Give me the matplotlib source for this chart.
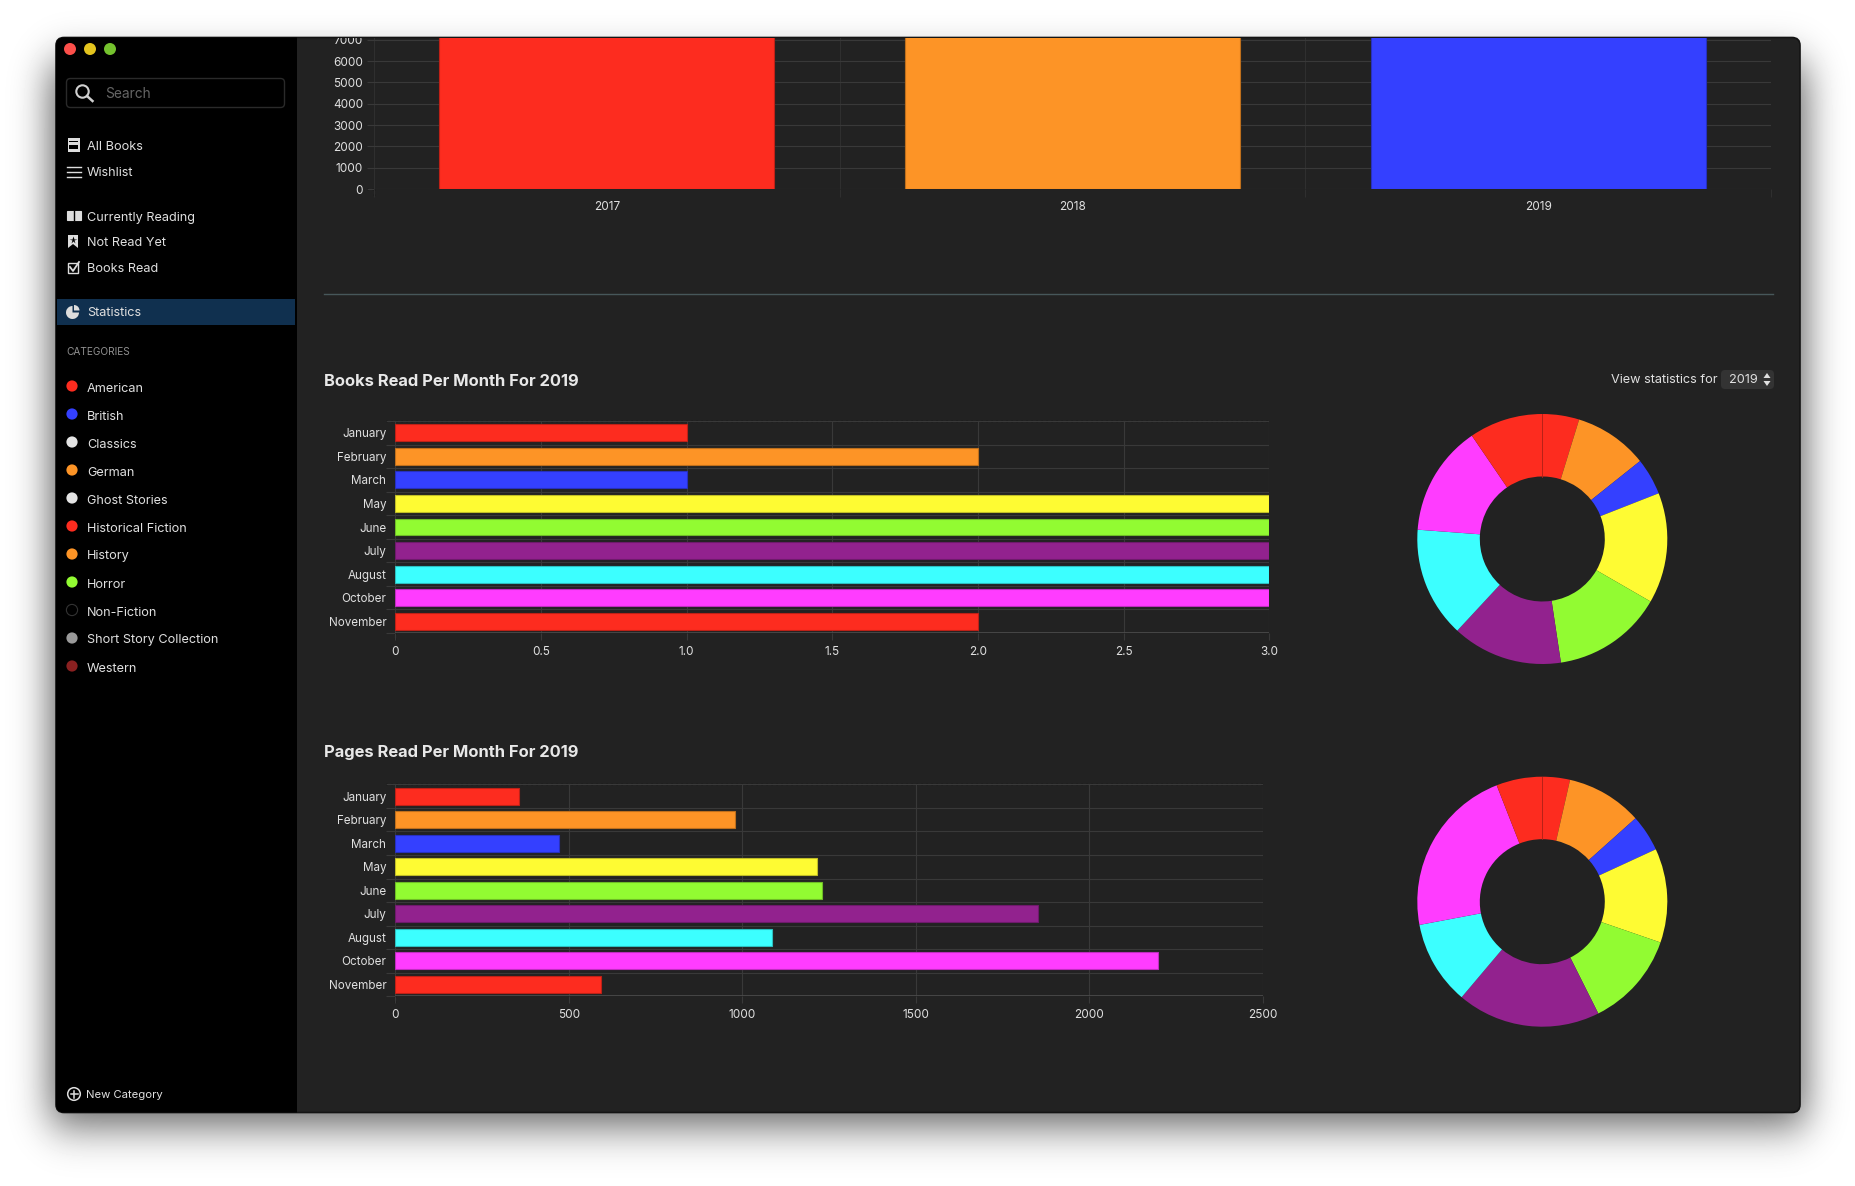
import math

import matplotlib as mpl
import matplotlib.pyplot as plt
import numpy as np
from matplotlib.patches import Circle, FancyBboxPatch, Polygon, Rectangle, Wedge

mpl.use("Agg")

W, H = 1855, 1186
BG = "#222222"
GRID = "#393939"
TEXT = "#e0e0e0"
plt.rcParams["font.family"] = ["Inter", "DejaVu Sans"]

# data
years = ["2017", "2018", "2019"]
year_values = [7300, 7300, 7300]  # cut off by the window top
year_colors = ["#FD2C1F", "#FD9426", "#3440FF"]
year_ticks = [0, 1000, 2000, 3000, 4000, 5000, 6000, 7000]

months = ["January", "February", "March", "May", "June", "July", "August", "October", "November"]
month_colors = ["#FD2C1F", "#FD9426", "#3440FF", "#FEFB33", "#92FB32", "#92228E", "#3CFFFF", "#FF3CFF", "#FD2C1F"]
books_read = [1, 2, 1, 3, 3, 3, 3, 3, 2]
books_ticks = [0, 0.5, 1.0, 1.5, 2.0, 2.5, 3.0]
books_labels = ["0", "0.5", "1.0", "1.5", "2.0", "2.5", "3.0"]
pages_read = [356, 979, 473, 1214, 1229, 1851, 1084, 2198, 593]
pages_ticks = [0, 500, 1000, 1500, 2000, 2500]

nav_top = ["All Books", "Wishlist"]
nav_status = ["Currently Reading", "Not Read Yet", "Books Read"]
categories = ["American", "British", "Classics", "German", "Ghost Stories", "Historical Fiction",
              "History", "Horror", "Non-Fiction", "Short Story Collection", "Western"]
category_colors = ["#FD2C1F", "#3440FF", "#E4E4E4", "#FD9426", "#E4E4E4", "#FD2C1F",
                   "#FD9426", "#92FB32", "#000000", "#9A9A9A", "#8A2020"]


def axes_px(left, top, right, bottom, **kw):
    return fig.add_axes([left / W, 1 - bottom / H, (right - left) / W, (bottom - top) / H], **kw)


def darker(color, amount=0.75):
    r, g, b = mpl.colors.to_rgb(color)
    return (r * amount, g * amount, b * amount)


def style_axes(ax):
    ax.set_facecolor("none")
    for spine in ax.spines.values():
        spine.set_visible(False)
    ax.set_axisbelow(True)


def month_bars(ax, values, ticks, labels):
    style_axes(ax)
    ax.barh(range(len(months)), values, height=0.72, color=month_colors,
            edgecolor=[darker(c) for c in month_colors], linewidth=0.8)
    ax.set_ylim(len(months) - 0.5, -0.5)
    ax.set_xlim(ticks[0], ticks[-1])
    ax.set_yticks(range(len(months)), months)
    ax.set_yticks(np.arange(len(months) + 1) - 0.5, minor=True)
    ax.set_xticks(ticks, labels)
    ax.grid(True, axis="x", color=GRID, lw=0.8)
    ax.grid(True, axis="y", which="minor", color=GRID, lw=0.8)
    ax.tick_params(axis="y", which="major", length=0, pad=6.5, labelsize=8.4, labelcolor=TEXT)
    ax.tick_params(axis="y", which="minor", length=6.5, width=0.8, color=GRID)
    ax.tick_params(axis="x", length=5, width=0.8, color=GRID, pad=4.5, labelsize=8.5, labelcolor=TEXT)
    ax.axhline(len(months) - 0.5, color="#4c4c4c", lw=1.2, zorder=1)


def donut(ax, values):
    ax.set_axis_off()
    ax.pie(values, colors=month_colors, startangle=90, counterclock=False, radius=1,
           wedgeprops={"width": 0.5, "linewidth": 0})
    ax.set_xlim(-1, 1)
    ax.set_ylim(-1, 1)
    ax.plot([0, 0], [0.5, 1], color=darker(month_colors[0], 0.72), lw=0.6)


fig = plt.figure(figsize=(W / 100, H / 100), dpi=100, facecolor="white")

# shadow behind the window
xx = np.arange(W)[None, :]
yy = np.arange(H)[:, None]
erf = np.vectorize(math.erf)
sx = 0.5 * (erf((xx - 50) / 26) - erf((xx - 1805) / 26))
sy = 0.5 * (erf((yy - 62) / 30) - erf((yy - 1125) / 30))
shadow = np.clip(sx * sy * 0.62, 0, 1)

chrome = fig.add_axes([0, 0, 1, 1], zorder=0)
chrome.set_xlim(0, W)
chrome.set_ylim(H, 0)
chrome.set_axis_off()
chrome.imshow(1 - shadow, cmap="gray", vmin=0, vmax=1, extent=(0, W, H, 0), aspect="auto", interpolation="bilinear")

window = FancyBboxPatch((56, 37.5), 1744, 1075, boxstyle="round,pad=0,rounding_size=8",
                        fc=BG, ec="#141414", lw=1.2)
chrome.add_patch(window)
sidebar = Rectangle((56, 37), 241, 1076, fc="black", ec="none")
chrome.add_patch(sidebar)
sidebar.set_clip_path(window)
chrome.add_patch(Rectangle((57, 299), 238, 26, fc="#10304F", ec="none"))

# traffic lights
for x, c in zip([70, 90, 110], ["#FC4F4A", "#E3C41E", "#75C22E"]):
    chrome.add_patch(Circle((x, 49), 6, fc=c, ec="none"))

# search box
chrome.add_patch(FancyBboxPatch((66.5, 78.5), 218, 29, boxstyle="round,pad=0,rounding_size=4",
                                fc="black", ec="#2a2a2a", lw=1))
chrome.add_patch(Circle((82.5, 91.5), 6.2, fc="none", ec="#d0d0d0", lw=1.5))
chrome.plot([87, 92.5], [96, 101], color="#d0d0d0", lw=1.8)
chrome.text(105, 94.5, "Search", color="#666666", fontsize=9.9, va="center")

# sidebar text
for label, y in zip(nav_top, [146, 172]):
    chrome.text(87, y + 1.5, label, color=TEXT, fontsize=9.15, va="center")
for label, y in zip(nav_status, [216, 242, 268]):
    chrome.text(87, y + 1.5, label, color=TEXT, fontsize=9.15, va="center")
chrome.text(87, 313.5, "Statistics", color=TEXT, fontsize=9.15, va="center")
chrome.text(66.5, 352, "CATEGORIES", color="#8f8f8f", fontsize=7.3, va="center")
for i, (label, c) in enumerate(zip(categories, category_colors)):
    y = 387 + 28 * i
    chrome.add_patch(Circle((72, y - 1), 5.6, fc=c, ec="#333333" if c == "#000000" else "none", lw=0.8))
    chrome.text(87, y + 1.5, label, color=TEXT, fontsize=9.15, va="center")

# sidebar icons
ICON = "#dddddd"
chrome.add_patch(Rectangle((67.5, 138), 12, 14, fc=ICON, ec="none"))
chrome.add_patch(Rectangle((69, 141), 9, 1, fc="black", ec="none"))
chrome.add_patch(Rectangle((69, 145), 9, 4, fc="black", ec="none"))
for y in [166.5, 171.5, 176.5]:
    chrome.plot([66.5, 68.5], [y, y], color=ICON, lw=1)
    chrome.plot([70, 81], [y, y], color=ICON, lw=1)
chrome.add_patch(Rectangle((66.5, 211), 14, 9, fc=ICON, ec=ICON, lw=0.8))
chrome.plot([73.5, 73.5], [211, 220], color="black", lw=1)
chrome.add_patch(Polygon([(68, 235), (78, 235), (78, 248), (73, 244), (68, 248)], fc=ICON, ec="none"))
chrome.plot(73, 240, marker="*", ms=5.5, color="black", mec="none")
chrome.add_patch(Rectangle((68, 263), 10, 10, fc="none", ec=ICON, lw=1))
chrome.plot([70, 73, 79], [267, 271, 262], color=ICON, lw=1.3)
chrome.add_patch(Wedge((72.5, 312.5), 6.5, 0, 270, fc=ICON, ec="none"))
chrome.add_patch(Wedge((74, 310.5), 5.5, -90, 0, fc=ICON, ec="none"))

# new category
chrome.add_patch(Circle((74, 1094), 6.3, fc="none", ec=ICON, lw=1.1))
chrome.plot([70.5, 77.5], [1094, 1094], color=ICON, lw=1.1)
chrome.plot([74, 74], [1090.5, 1097.5], color=ICON, lw=1.1)
chrome.text(86.5, 1095.5, "New Category", color=TEXT, fontsize=8.1, va="center")

# main pane text
chrome.plot([324, 1773], [294, 294], color="#47575A", lw=1)
chrome.text(324, 382, "Books Read Per Month For 2019", color="#e8e8e8", fontsize=11.9, fontweight="bold", va="center")
chrome.text(324, 752, "Pages Read Per Month For 2019", color="#e8e8e8", fontsize=11.9, fontweight="bold", va="center")
chrome.text(1717.5, 380, "View statistics for", color=TEXT, fontsize=9.15, ha="right", va="center")
chrome.add_patch(FancyBboxPatch((1721, 370), 53, 19, boxstyle="round,pad=0,rounding_size=4", fc="#333333", ec="none"))
chrome.text(1729, 380, "2019", color=TEXT, fontsize=9.15, va="center")
chrome.add_patch(Polygon([(1763.5, 378), (1770.5, 378), (1767, 373)], fc=TEXT, ec="none"))
chrome.add_patch(Polygon([(1763.5, 381), (1770.5, 381), (1767, 386)], fc=TEXT, ec="none"))

# black dotted zero lines of the charts
DOTS = (0, (1, 3))
chrome.plot([367, 374], [189, 189], color="black", lw=0.9, ls=DOTS)
chrome.plot([374, 374], [189, 197], color="black", lw=0.9, ls=DOTS)
for x_right, y_top, y_bottom in [(1269, 421, 633), (1263, 784.3, 996.3)]:
    chrome.plot([386, x_right], [y_top, y_top], color="black", lw=0.9, ls=DOTS)
    chrome.plot([395.3, 395.3], [y_bottom, y_bottom + 8], color="black", lw=0.9, ls=DOTS)

# pages per year, top of it is cut by the window
ax_top = axes_px(374, 38, 1771, 189, zorder=1)
style_axes(ax_top)
ax_top.bar(range(3), year_values, width=0.72, color=year_colors,
           edgecolor=[darker(c) for c in year_colors], linewidth=0.8)
ax_top.set_xlim(-0.5, 2.5)
ax_top.set_ylim(0, 7089)
ax_top.set_yticks(year_ticks)
ax_top.set_xticks(range(3), years)
ax_top.set_xticks([-0.5, 0.5, 1.5, 2.5], minor=True)
ax_top.grid(True, axis="y", color=GRID, lw=0.8)
ax_top.grid(True, axis="x", which="minor", color="#2f2f2f", lw=0.8)
ax_top.tick_params(axis="y", length=5, width=0.8, color=GRID, pad=3, labelsize=8.5, labelcolor=TEXT)
ax_top.tick_params(axis="x", which="major", length=0, pad=8.6, labelsize=8.5, labelcolor=TEXT)
ax_top.tick_params(axis="x", which="minor", length=5.5, width=0.8, color="#2f2f2f")
for lbl in ax_top.get_yticklabels():
    lbl.set_verticalalignment("center_baseline")
    lbl.set_clip_path(Rectangle((0, 38), W, H, transform=chrome.transData))

ax_books = axes_px(395.3, 421, 1269.2, 633, zorder=1)
month_bars(ax_books, books_read, books_ticks, books_labels)

ax_pages = axes_px(395.3, 784.3, 1263, 996.3, zorder=1)
month_bars(ax_pages, pages_read, pages_ticks, [str(t) for t in pages_ticks])

ax_d1 = axes_px(1417.3, 414, 1667.3, 664, zorder=1)
donut(ax_d1, books_read)
ax_d2 = axes_px(1417.3, 776.7, 1667.3, 1026.7, zorder=1)
donut(ax_d2, pages_read)

fig.savefig("out.png", dpi=100)
